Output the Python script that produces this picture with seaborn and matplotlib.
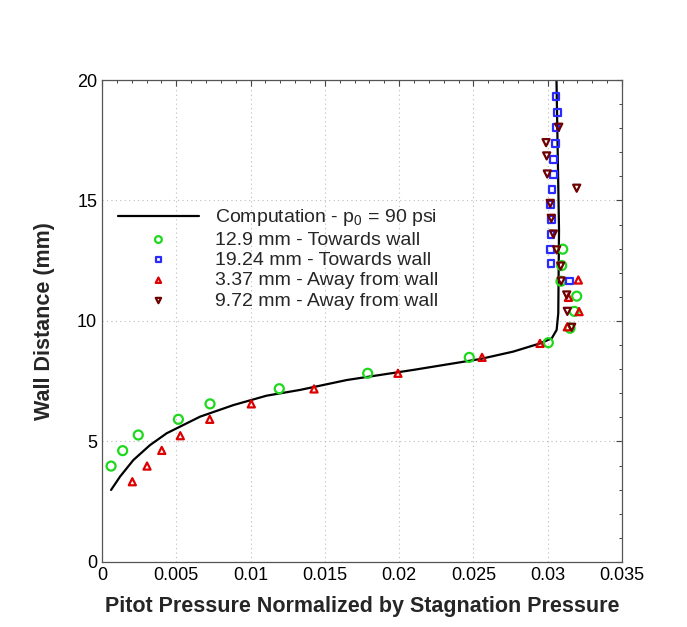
import numpy as np
import pandas as pd
import matplotlib
matplotlib.use("Agg")
import matplotlib.pyplot as plt
from matplotlib.ticker import MultipleLocator
import seaborn as sns

# ---- data ----
comp_x = [0.00061, 0.00121, 0.00211, 0.00323, 0.00435, 0.00660, 0.00884, 0.01107,
          0.01333, 0.01647, 0.02095, 0.02544, 0.02768, 0.02948, 0.03027, 0.03060,
          0.03071, 0.03076, 0.03059]
comp_y = [2.99, 3.54, 4.23, 4.85, 5.34, 6.03, 6.51, 6.90, 7.14, 7.55, 7.97, 8.42,
          8.73, 9.07, 9.28, 9.63, 10.32, 13.78, 20.0]

g_x = [0.00061, 0.00139, 0.00244, 0.00514, 0.00727, 0.01193, 0.01788, 0.02472, 0.03004,
       0.03150, 0.03179, 0.03195, 0.03089, 0.03094, 0.03101]
g_y = [3.98, 4.62, 5.27, 5.92, 6.56, 7.19, 7.83, 8.49, 9.10,
       9.70, 10.40, 11.03, 11.65, 12.30, 12.98]

b_x = [0.03145, 0.03022, 0.03017, 0.03022, 0.03024, 0.03020, 0.03029, 0.03038,
       0.03038, 0.03054, 0.03056, 0.03064, 0.03056]
b_y = [11.66, 12.37, 12.98, 13.58, 14.22, 14.83, 15.44, 16.09, 16.71, 17.37,
       18.02, 18.66, 19.31]

r_x = [0.00204, 0.00303, 0.00402, 0.00527, 0.00725, 0.01005, 0.01427, 0.01992,
       0.02558, 0.02948, 0.03132, 0.03211, 0.03139, 0.03206]
r_y = [3.33, 3.98, 4.63, 5.24, 5.92, 6.56, 7.18, 7.83, 8.49, 9.07, 9.76, 10.39,
       10.98, 11.70]

d_x = [0.03161, 0.03132, 0.03128, 0.03091, 0.03087, 0.03060, 0.03038, 0.03024,
       0.03017, 0.03195, 0.02997, 0.02993, 0.02989, 0.03074]
d_y = [9.74, 10.40, 11.08, 11.66, 12.28, 12.95, 13.61, 14.26, 14.88, 15.51,
       16.10, 16.85, 17.40, 18.04]

labels = ["Computation - p$_\\mathregular{0}$ = 90 psi",
          "12.9 mm - Towards wall",
          "19.24 mm - Towards wall",
          "3.37 mm - Away from wall",
          "9.72 mm - Away from wall"]

x_ticks = [0, 0.005, 0.01, 0.015, 0.02, 0.025, 0.03, 0.035]
x_ticklabels = ["0", "0.005", "0.01", "0.015", "0.02", "0.025", "0.03", "0.035"]
y_ticks = [0, 5, 10, 15, 20]

# ---- style ----
sns.set_theme(style="white")
plt.rcParams["font.family"] = ["Liberation Sans", "DejaVu Sans"]
plt.rcParams["mathtext.default"] = "regular"
plt.rcParams["mathtext.fontset"] = "custom"
plt.rcParams["mathtext.rm"] = "Liberation Sans"

fig = plt.figure(figsize=(6.87, 6.27), dpi=100)
ax = fig.add_axes([0.1485, 0.1037, 0.7569, 0.7687])

comp = pd.DataFrame({"x": comp_x, "y": comp_y})
sns.lineplot(data=comp, x="x", y="y", sort=False, estimator=None, color="black",
             linewidth=1.6, ax=ax, label=labels[0])

def pts(xs, ys, marker, color, size, label):
    df = pd.DataFrame({"x": xs, "y": ys})
    sns.scatterplot(data=df, x="x", y="y", marker=marker, s=size,
                    facecolors="none", edgecolor=color, color=color,
                    linewidth=1.6, ax=ax, label=label, zorder=3)

pts(g_x, g_y, "o", "#1ed81e", 42, labels[1])
pts(b_x, b_y, "s", "#2a2aff", 24, labels[2])
pts(r_x, r_y, "^", "#dd0000", 26, labels[3])
pts(d_x, d_y, "v", "#6e0000", 26, labels[4])

ax.set_xlim(0, 0.035)
ax.set_ylim(0, 20)
ax.set_xticks(x_ticks)
ax.set_xticklabels(x_ticklabels)
ax.set_yticks(y_ticks)
ax.xaxis.set_minor_locator(MultipleLocator(0.001))
ax.yaxis.set_minor_locator(MultipleLocator(1))
ax.tick_params(which="both", direction="in", top=True, right=True,
               colors="#444444", labelcolor="black", labelsize=13)
ax.tick_params(which="major", length=4.5, width=0.8)
ax.tick_params(which="minor", length=2.5, width=0.7)
for sp in ax.spines.values():
    sp.set_color("#555555")
    sp.set_linewidth(0.9)
ax.grid(True, which="major", linestyle=(0, (1, 3)), color="#bbbbbb", linewidth=0.8)

ax.set_xlabel("Pitot Pressure Normalized by Stagnation Pressure",
              fontsize=15.5, fontweight="bold", labelpad=9)
ax.set_ylabel("Wall Distance (mm)", fontsize=15.5, fontweight="bold", labelpad=16)

leg = ax.legend(loc="upper left", bbox_to_anchor=(0.015, 0.752), frameon=False,
                fontsize=14, handlelength=4.2, handletextpad=0.8,
                labelspacing=0.14, markerscale=0.75, borderaxespad=0)

fig.savefig("out.png", dpi=100)
